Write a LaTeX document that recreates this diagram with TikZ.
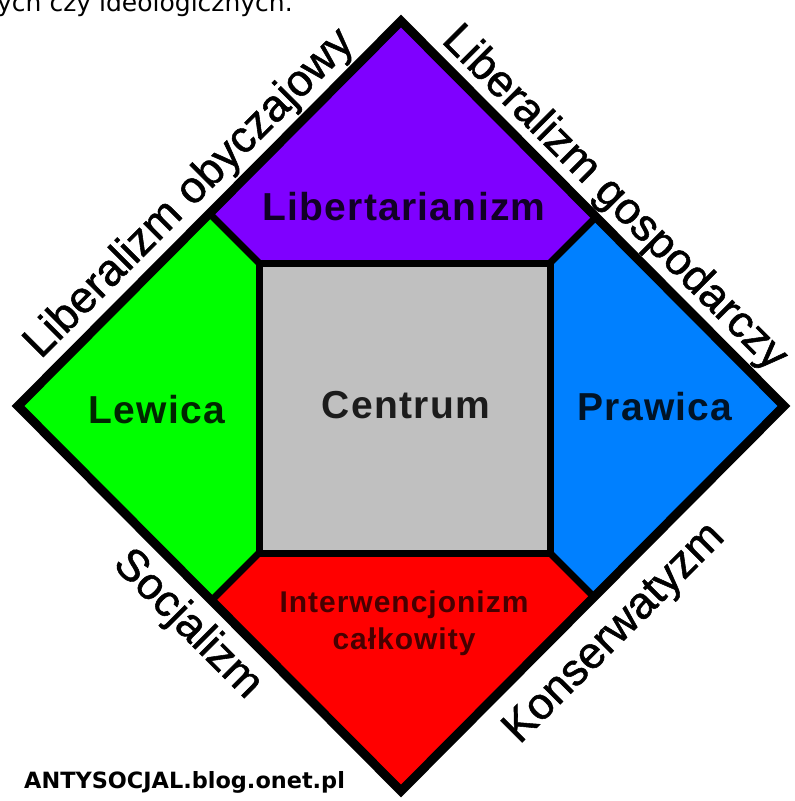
\documentclass[tikz,border=0pt]{standalone}
\usepackage{fontspec}
\newfontfamily\axisfont[FakeBold=1.2]{Liberation Sans}
\newfontfamily\regfont[LetterSpace=3.3]{Liberation Sans}
\newfontfamily\wmfont{DejaVu Sans}
\definecolor{purp}{RGB}{127,0,255}
\definecolor{grn}{RGB}{0,255,0}
\definecolor{blu}{RGB}{0,128,255}
\definecolor{rd}{RGB}{255,0,0}
\definecolor{gry}{RGB}{192,192,192}
\tikzset{
  outerline/.style={draw=black, line width=9pt, line join=miter},
  sepline/.style={draw=black, line width=7pt},
  region/.style={inner sep=0pt, text opacity=0.85, font=\regfont\bfseries\fontsize{39}{46}\selectfont},
  axislab/.style={inner sep=0pt, font=\axisfont\fontsize{44.5}{50}\selectfont},
}
\begin{document}
\begin{tikzpicture}[x=1pt,y=-1pt]
\useasboundingbox (0,0) rectangle (795,801);
\clip (0,0) rectangle (795,801);
\fill[white] (0,0) rectangle (795,801);
% diamond vertices
\coordinate (L) at (18,406);
\coordinate (T) at (401,21);
\coordinate (R) at (784,406);
\coordinate (B) at (401,791);
% inner square corners
\coordinate (STL) at (259,263);
\coordinate (STR) at (550,263);
\coordinate (SBR) at (550,553);
\coordinate (SBL) at (259,553);
% points on the diamond edges
\coordinate (P1) at (209.5,213.5);
\coordinate (P2) at (596,217);
\coordinate (P3) at (594,597);
\coordinate (P4) at (211.5,600.5);
% regions
\fill[purp] (T) -- (P2) -- (STR) -- (STL) -- (P1) -- cycle;
\fill[grn] (L) -- (P1) -- (STL) -- (SBL) -- (P4) -- cycle;
\fill[blu] (R) -- (P2) -- (STR) -- (SBR) -- (P3) -- cycle;
\fill[rd] (B) -- (P4) -- (SBL) -- (SBR) -- (P3) -- cycle;
\fill[gry] (STL) rectangle (SBR);
% separators
\draw[sepline] (P1) -- (STL);
\draw[sepline] (P2) -- (STR);
\draw[sepline] (P3) -- (SBR);
\draw[sepline] (P4) -- (SBL);
\draw[sepline, line join=miter] (STL) rectangle (SBR);
\draw[outerline] (L) -- (T) -- (R) -- (B) -- cycle;
% region labels
\node[region] (lib) at (404,207) {Libertarianizm};
\node[region] (lew) at (157,410) {Lewica};
\node[region] (cen) at (406,405) {Centrum};
\node[region] (pra) at (655,407) {Prawica};
\node[region, align=center, text opacity=0.72, font=\regfont\bfseries\fontsize{30}{37}\selectfont] (int) at (404,623) {Interwencjonizm\\całkowity};
% axis labels
\node[axislab, anchor=base, rotate=45] (lobycz) at (198.2,202.2) {Liberalizm obyczajowy};
\node[axislab, anchor=base, rotate=-45] (lgosp) at (606,207) {Liberalizm gospodarczy};
\node[axislab, anchor=north, rotate=-45] (soc) at (202,610) {Socjalizm};
\node[axislab, anchor=north, rotate=45] (kons) at (601,620) {Konserwatyzm};
% watermark and cut-off top line
\node[inner sep=0pt, anchor=base west, font=\wmfont\bfseries\fontsize{22.4}{26}\selectfont] (wm) at (24,788) {ANTYSOCJAL.blog.onet.pl};
\node[inner sep=0pt, anchor=base west, font=\wmfont\fontsize{25}{28}\selectfont] (top) at (-3,11.5) {ych czy ideologicznych.};
\end{tikzpicture}
\end{document}
